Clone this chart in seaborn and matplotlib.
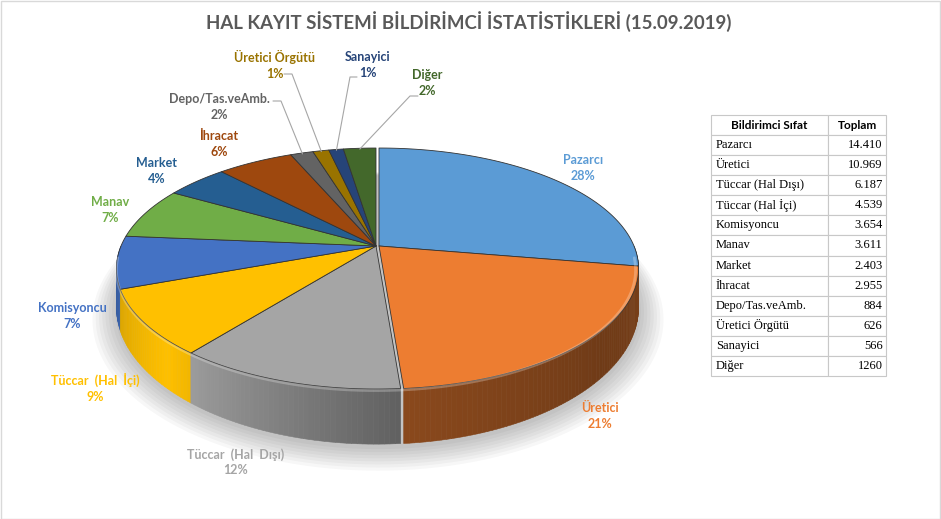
import numpy as np
import seaborn as sns
import matplotlib.pyplot as plt
from matplotlib.colors import to_rgb
from matplotlib.patches import Rectangle

TITLE = "HAL KAYIT SİSTEMİ BİLDİRİMCİ İSTATİSTİKLERİ (15.09.2019)"

categories = ["Pazarcı", "Üretici", "Tüccar (Hal Dışı)", "Tüccar (Hal İçi)",
              "Komisyoncu", "Manav", "Market", "İhracat", "Depo/Tas.veAmb.",
              "Üretici Örgütü", "Sanayici", "Diğer"]
totals = [14410, 10969, 6187, 4539, 3654, 3611, 2403, 2955, 884, 626, 566, 1260]
total_labels = ["14.410", "10.969", "6.187", "4.539", "3.654", "3.611",
                "2.403", "2.955", "884", "626", "566", "1260"]
pct_labels = ["28%", "21%", "12%", "9%", "7%", "7%", "4%", "6%", "2%", "1%", "1%", "2%"]
pie_names = ["Pazarcı", "Üretici", "Tüccar  (Hal  Dışı)", "Tüccar  (Hal  İçi)",
             "Komisyoncu", "Manav", "Market", "İhracat", "Depo/Tas.veAmb.",
             "Üretici Örgütü", "Sanayici", "Diğer"]

colors = ["#5B9BD5", "#ED7D31", "#A5A5A5", "#FFC000", "#4472C4", "#70AD47",
          "#255E91", "#9E480E", "#636363", "#997300", "#264478", "#43682B"]

# label placement (pixels) and small leader lines
LABEL_XY = [(583, 168), (600, 416), (236, 462), (95, 388), (72, 316), (110, 210),
            (157, 171), (219, 144), (219, 107), (275, 65), (368, 65), (427, 83)]
LEADERS = {8: (273, 281, 101), 9: (284, 292, 74), 10: (357, 350, 77), 11: (418, 410, 96)}
SLICE_SHIFT = [3, 3, 0, 0, 0, 0, 0, 0, 0, 0, 0, 0]

# fake perspective for the 3d pie
CX, CY = 376, 246
A, B, K = 255, 116.3, 0.187
DEPTH = 36.4
SHADE_ANG = [180, 200, 225, 275, 320, 360]
SHADE_VAL = [0.72, 0.86, 1.0, 0.58, 0.47, 0.52]


def project(theta, r=1.0, z=0.0, dx=0.0):
    t = np.radians(theta)
    u, v = r * np.cos(t), r * np.sin(t)
    w = 1 + K * v
    x = CX + dx + A * u / w
    y = CY - B * v / w + z * DEPTH / w ** 2
    return x, y


def shade(color, theta):
    f = np.interp(theta % 360 if theta % 360 >= 180 else theta % 360 + 360,
                  SHADE_ANG + [540], SHADE_VAL + [SHADE_VAL[-1]])
    return tuple(np.clip(np.array(to_rgb(color)) * f, 0, 1))


sns.set_theme(style="white")
plt.rcParams["font.family"] = ["Lato", "DejaVu Sans"]

fig = plt.figure(figsize=(9.41, 5.19), dpi=100)
ax = fig.add_axes([0, 0, 1, 1])
ax.set_xlim(0, 941)
ax.set_ylim(519, 0)
ax.axis("off")
ax.add_patch(Rectangle((0.5, 0.5), 940, 518, fill=False, edgecolor="#d9d9d9", lw=1))

fracs = np.array(totals) / np.sum(totals)
edges = 90 - 360 * np.concatenate([[0], np.cumsum(fracs)])

# soft shadow below the pie
rim = np.linspace(0, 360, 181)
for s in range(8, 0, -1):
    sx, sy = project(rim, r=1 + 0.012 * s, z=1.0)
    ax.fill(sx + 2, sy + 2 + s * 0.6, color="#000000", alpha=0.03, lw=0)

# side walls, back strips first
strips = []
for i, (hi, lo) in enumerate(zip(edges[:-1], edges[1:])):
    for off in (-360, 0, 360):
        a0, a1 = max(lo, 180 + off), min(hi, 360 + off)
        if a1 <= a0:
            continue
        n = max(2, int(np.ceil(a1 - a0)))
        ts = np.linspace(a0, a1, n + 1)
        for t0, t1 in zip(ts[:-1], ts[1:]):
            strips.append((np.sin(np.radians((t0 + t1) / 2)), i, t0, t1))
strips.sort(key=lambda s: -s[0])
for _, i, t0, t1 in strips:
    x0, y0 = project(t0, dx=SLICE_SHIFT[i])
    x1, y1 = project(t1, dx=SLICE_SHIFT[i])
    x2, y2 = project(t1, z=1, dx=SLICE_SHIFT[i])
    x3, y3 = project(t0, z=1, dx=SLICE_SHIFT[i])
    c = shade(colors[i], (t0 + t1) / 2)
    ax.fill([x0, x1, x2, x3], [y0, y1, y2, y3], color=c, lw=0.4, ec=c)

# top face
for i, (hi, lo) in enumerate(zip(edges[:-1], edges[1:])):
    ts = np.linspace(hi, lo, max(3, int(abs(hi - lo) * 2)))
    px, py = project(ts, dx=SLICE_SHIFT[i])
    px = np.concatenate([[CX + SLICE_SHIFT[i]], px])
    py = np.concatenate([[CY], py])
    ax.fill(px, py, color=colors[i], ec="#333333", lw=0.6, joinstyle="round")

# light bevel along the front rim
ts = np.linspace(185, 355, 200)
bx, by = project(ts)
ax.plot(bx, by + 1.5, color="white", alpha=0.25, lw=2)

# labels
for i, (name, pct) in enumerate(zip(pie_names, pct_labels)):
    lx, ly = LABEL_XY[i]
    ax.text(lx, ly, f"{name}\n{pct}", ha="center", va="center", fontsize=9,
            fontweight="bold", color=colors[i], linespacing=1.35)
    if i in LEADERS:
        xa, xb, yl = LEADERS[i]
        mid = (edges[i] + edges[i + 1]) / 2
        rx, ry = project(mid, r=0.99)
        ax.plot([xa, xb, rx], [yl, yl, ry], color="#a6a6a6", lw=0.8)

fig.text(469 / 941, 1 - 22 / 519, TITLE, ha="center", va="center", fontsize=13.4,
         fontweight="bold", color="#595959")

# summary table on the right
tax = fig.add_axes([711 / 941, 1 - 376 / 519, 175 / 941, 261 / 519])
tax.axis("off")
tbl = tax.table(cellText=[[c, t] for c, t in zip(categories, total_labels)],
                colLabels=["Bildirimci Sıfat", "Toplam"],
                colWidths=[117 / 175, 58 / 175], bbox=[0, 0, 1, 1], cellLoc="left")
tbl.auto_set_font_size(False)
for (r, c), cell in tbl.get_celld().items():
    cell.set_edgecolor("#c8c8c8")
    cell.set_linewidth(0.8)
    txt = cell.get_text()
    txt.set_color("#000000")
    if r == 0:
        cell._loc = "center"
        txt.set_ha("center")
        txt.set_fontweight("bold")
        txt.set_fontfamily(["Lato", "DejaVu Sans"])
        txt.set_fontsize(8.5)
    else:
        txt.set_fontfamily(["Liberation Serif", "DejaVu Serif"])
        txt.set_fontsize(9)
        if c == 1:
            cell._loc = "right"
            txt.set_ha("right")
            cell.PAD = 0.06
        else:
            cell.PAD = 0.04

fig.savefig("out.png", dpi=100)
